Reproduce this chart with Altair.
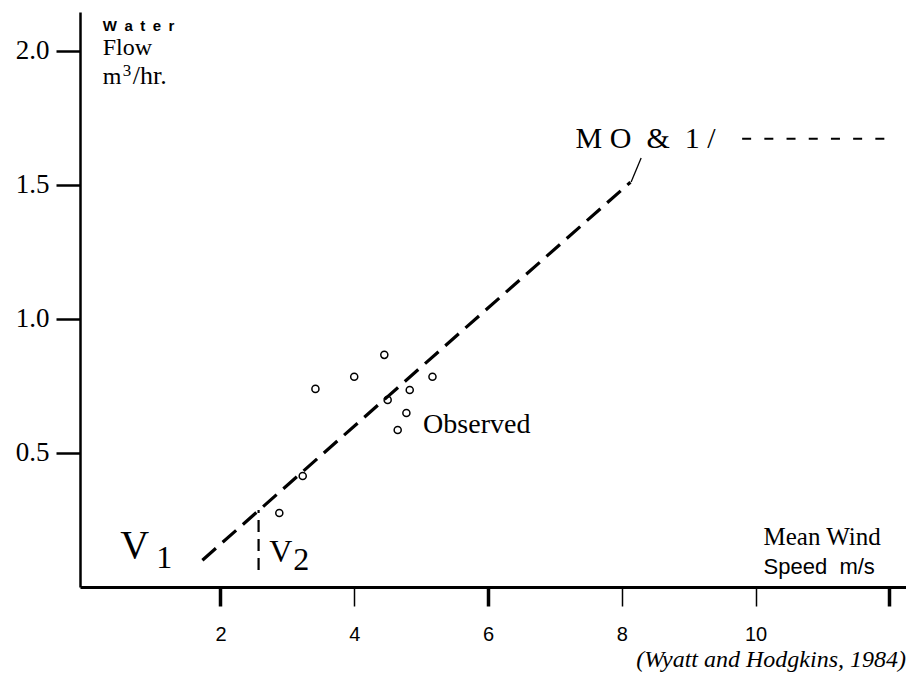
import altair as alt
import pandas as pd

# Observed water flow (m3/hr) against mean wind speed (m/s)
wind_speed = [4.45, 4.00, 3.42, 5.17, 4.83, 4.50, 4.78, 4.65, 3.23, 2.88]
water_flow = [0.866, 0.784, 0.739, 0.784, 0.735, 0.698, 0.649, 0.586, 0.414, 0.276]

# Model line end points
model_speed = [1.73, 8.13]
model_flow = [0.10, 1.51]

# V2 threshold marker
v2_speed = [2.57, 2.57]
v2_flow = [0.063, 0.287]

# Leader from the model line up to its label
leader_speed = [8.14, 8.29]
leader_flow = [1.511, 1.60]

# Dashed line-style key after the model label
key_speed = [9.80, 11.94]
key_flow = [1.672, 1.672]

x_ticks = [2, 4, 6, 8, 10, 12]
y_ticks = [0.5, 1.0, 1.5, 2.0]

SERIF = "Liberation Serif"
SANS = "Liberation Sans"
NB = "\u00a0"  # non-collapsing space for letter-spaced labels

x_enc = alt.X(
    "x:Q",
    scale=alt.Scale(domain=[-0.1, 12.25], nice=False, zero=False),
    axis=alt.Axis(
        values=x_ticks,
        title=None,
        grid=False,
        domainWidth=3,
        domainColor="black",
        tickColor="black",
        tickSize=19,
        tickWidth={"condition": {"test": "datum.value == 2 || datum.value == 6 || datum.value == 12", "value": 3.5}, "value": 1.5},
        labelFont=SANS,
        labelFontSize=20,
        labelColor="black",
        labelPadding=18,
        labelExpr="datum.value == 12 ? '' : datum.label",
    ),
)
y_enc = alt.Y(
    "y:Q",
    scale=alt.Scale(domain=[0, 2.145], nice=False, zero=False),
    axis=alt.Axis(
        values=y_ticks,
        title=None,
        grid=False,
        format=".1f",
        domainWidth=2.5,
        domainColor="black",
        tickColor="black",
        tickSize=24,
        tickWidth=2.5,
        labelFont=SERIF,
        labelFontSize=27,
        labelColor="black",
        labelPadding=7,
    ),
)

obs = pd.DataFrame({"x": wind_speed, "y": water_flow})
model = pd.DataFrame({"x": model_speed, "y": model_flow})
v2 = pd.DataFrame({"x": v2_speed, "y": v2_flow})
leader = pd.DataFrame({"x": leader_speed, "y": leader_flow})
key = pd.DataFrame({"x": key_speed, "y": key_flow})

points = alt.Chart(obs).mark_point(
    shape="circle", filled=False, size=50, stroke="black", strokeWidth=1.5, opacity=1
).encode(x=x_enc, y=y_enc)

model_line = alt.Chart(model).mark_line(
    color="black", strokeWidth=3.2, strokeDash=[18, 9], strokeCap="butt"
).encode(x=x_enc, y=y_enc)

v2_line = alt.Chart(v2).mark_line(
    color="black", strokeWidth=2.2, strokeDash=[12, 7], strokeCap="butt"
).encode(x=x_enc, y=y_enc)

leader_line = alt.Chart(leader).mark_line(color="black", strokeWidth=1.3).encode(
    x=x_enc, y=y_enc
)

key_line = alt.Chart(key).mark_line(
    color="black", strokeWidth=2, strokeDash=[9, 13.2], strokeCap="butt"
).encode(x=x_enc, y=y_enc)


def label(texts, xs, ys, **style):
    df = pd.DataFrame({"x": xs, "y": ys, "t": texts})
    base = dict(align="left", baseline="alphabetic", color="black")
    base.update(style)
    return alt.Chart(df).mark_text(**base).encode(x=x_enc, y=y_enc, text="t:N")


model_label = "M" + NB + "O" + NB * 2 + "&" + NB * 2 + "1" + NB + "/"

layers = [
    model_line,
    v2_line,
    leader_line,
    key_line,
    points,
    label(["W\u2002a\u2002t\u2002e\u2002r"], [0.24], [2.075], font=SANS, fontSize=15, fontWeight="bold"),
    label(["Flow"], [0.24], [1.985], font=SERIF, fontSize=24),
    label(["m"], [0.24], [1.877], font=SERIF, fontSize=24),
    label(["3"], [0.54], [1.907], font=SERIF, fontSize=17),
    label(["/hr."], [0.69], [1.877], font=SERIF, fontSize=26),
    label([model_label], [7.31], [1.638], font=SERIF, fontSize=30),
    label(["Observed"], [5.03], [0.575], font=SERIF, fontSize=28),
    label(["V"], [0.50], [0.108], font=SERIF, fontSize=40),
    label(["1"], [1.04], [0.071], font=SERIF, fontSize=32),
    label(["V"], [2.73], [0.093], font=SERIF, fontSize=32),
    label(["2"], [3.09], [0.063], font=SERIF, fontSize=32),
    label(["Mean Wind"], [10.12], [0.157], font=SERIF, fontSize=25),
    label(["Speed" + NB * 2 + "m/s"], [10.12], [0.049], font=SANS, fontSize=22),
    label(["(Wyatt and Hodgkins, 1984)"], [12.25], [-0.30], font=SERIF, fontSize=24,
          fontStyle="italic", align="right"),
]

chart = (
    alt.layer(*layers)
    .properties(
        width=826,
        height=575,
        padding={"left": 80, "top": 12, "right": 0, "bottom": 89},
        autosize=alt.AutoSizeParams(type="none"),
        background="white",
    )
    .configure_view(stroke=None)
)

chart.save("out.html", embed_options={"renderer": "svg", "actions": False})
